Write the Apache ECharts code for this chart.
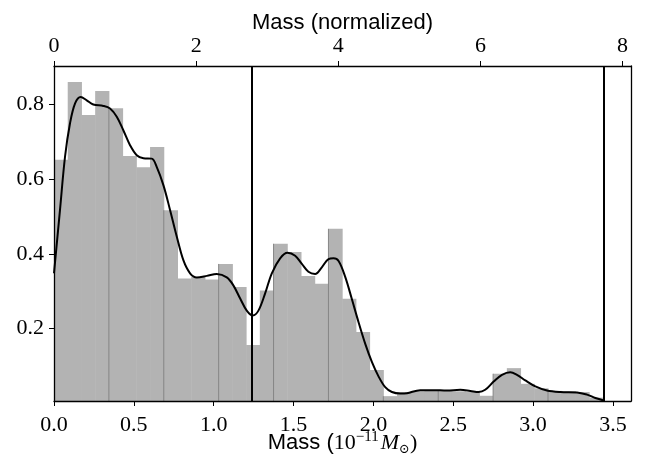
<!DOCTYPE html>
<html>
<head>
<meta charset="utf-8">
<script src="https://cdn.jsdelivr.net/npm/echarts@6/dist/echarts.min.js"></script>
<style>
  html, body { margin: 0; padding: 0; background: #fff; }
  #chart { width: 652px; height: 459px; }
</style>
</head>
<body>
<div id="chart"></div>
<script>
// histogram: 40 bins between 0 and the largest mass
const binMin = 0;
const binMax = 3.437;
const binHeights = [
  0.652, 0.860, 0.772, 0.836, 0.790, 0.662, 0.632, 0.686, 0.517, 0.334,
  0.338, 0.331, 0.373, 0.311, 0.156, 0.302, 0.427, 0.405, 0.341, 0.320,
  0.467, 0.280, 0.191, 0.089, 0.019, 0.030, 0.032, 0.034, 0.033, 0.032,
  0.030, 0.020, 0.079, 0.094, 0.052, 0.040, 0.033, 0.032, 0.030, 0.015
];

// density curve
const curveMass = [
  0, 0.038, 0.069, 0.100, 0.132, 0.167, 0.205, 0.246, 0.309, 0.351,
  0.393, 0.434, 0.476, 0.518, 0.560, 0.612, 0.643, 0.685, 0.727, 0.769,
  0.810, 0.852, 0.894, 0.957, 1.019, 1.082, 1.124, 1.165, 1.207, 1.245,
  1.280, 1.322, 1.364, 1.416, 1.462, 1.510, 1.552, 1.593, 1.635, 1.677,
  1.719, 1.750, 1.782, 1.823, 1.865, 1.907, 1.949, 1.991, 2.032, 2.074,
  2.116, 2.168, 2.210, 2.293, 2.377, 2.460, 2.544, 2.607, 2.659, 2.700,
  2.753, 2.805, 2.857, 2.899, 2.951, 3.014, 3.087, 3.170, 3.275, 3.338,
  3.390, 3.442
];
const curveDensity = [
  0.348, 0.520, 0.660, 0.749, 0.803, 0.820, 0.811, 0.800, 0.796, 0.789,
  0.767, 0.731, 0.691, 0.664, 0.656, 0.655, 0.633, 0.584, 0.517, 0.446,
  0.383, 0.348, 0.337, 0.341, 0.346, 0.337, 0.315, 0.281, 0.248, 0.235,
  0.248, 0.294, 0.348, 0.388, 0.403, 0.395, 0.373, 0.352, 0.346, 0.364,
  0.386, 0.388, 0.381, 0.339, 0.279, 0.217, 0.159, 0.110, 0.072, 0.043,
  0.030, 0.026, 0.027, 0.035, 0.035, 0.034, 0.036, 0.033, 0.030, 0.036,
  0.058, 0.076, 0.083, 0.076, 0.061, 0.045, 0.034, 0.030, 0.029, 0.023,
  0.014, 0.0075
];

const markerMasses = [1.239, 3.442];

const bottomTicks = [0, 0.5, 1.0, 1.5, 2.0, 2.5, 3.0, 3.5];
const topTicks = [0, 2, 4, 6, 8];
const yTicks = [0.2, 0.4, 0.6, 0.8];

const xMax = 3.613;
const topMax = 8.118;
const yMin = 0.006;
const yMax = 0.903;

const binWidth = (binMax - binMin) / binHeights.length;
const serif = '"Liberation Serif", "DejaVu Serif", serif';
const sans = '"Liberation Sans", Arial, sans-serif';

const chart = echarts.init(document.getElementById('chart'), null, { renderer: 'canvas' });

const tickLabel = { fontFamily: serif, fontSize: 22, color: '#000' };

const option = {
  animation: false,
  backgroundColor: '#fff',
  grid: { left: 54, right: 21, top: 66, bottom: 58, containLabel: false, outerBoundsMode: 'none' },
  xAxis: [
    {
      type: 'value', position: 'bottom', min: 0, max: xMax, z: 10,
      axisLine: { show: true, onZero: false, lineStyle: { color: '#000', width: 1.3 } },
      axisTick: { show: true, inside: false, length: 5, customValues: bottomTicks, lineStyle: { color: '#000', width: 1 } },
      axisLabel: Object.assign({ margin: 13, customValues: bottomTicks, formatter: v => v.toFixed(1) }, tickLabel),
      splitLine: { show: false },
      name: '{s|Mass (}{n|10}{sup|−11}{m|M}{sub|⊙}{n|)}',
      nameLocation: 'middle', nameGap: 29, nameMoveOverlap: false,
      nameTextStyle: {
        rich: {
          s: { fontFamily: sans, fontSize: 22, color: '#000' },
          n: { fontFamily: serif, fontSize: 22, color: '#000' },
          sup: { fontFamily: serif, fontSize: 15, color: '#000', verticalAlign: 'top', lineHeight: 26, padding: [0, 2, 0, 0] },
          m: { fontFamily: serif, fontStyle: 'italic', fontSize: 22, color: '#000' },
          sub: { fontFamily: serif, fontSize: 13, color: '#000', verticalAlign: 'bottom', lineHeight: 26 }
        }
      }
    },
    {
      type: 'value', position: 'top', min: 0, max: topMax, z: 10,
      axisLine: { show: true, onZero: false, lineStyle: { color: '#000', width: 1.3 } },
      axisTick: { show: true, inside: false, length: 5, customValues: topTicks, lineStyle: { color: '#000', width: 1 } },
      axisLabel: Object.assign({ margin: 9, customValues: topTicks, formatter: v => String(v) }, tickLabel),
      splitLine: { show: false },
      name: 'Mass (normalized)', nameLocation: 'middle', nameGap: 32, nameMoveOverlap: false,
      nameTextStyle: { fontFamily: sans, fontSize: 22, color: '#000' }
    }
  ],
  yAxis: [
    {
      type: 'value', position: 'left', min: yMin, max: yMax, z: 10,
      axisLine: { show: true, onZero: false, lineStyle: { color: '#000', width: 1.3 } },
      axisTick: { show: true, inside: false, length: 5, customValues: yTicks, lineStyle: { color: '#000', width: 1 } },
      axisLabel: Object.assign({ margin: 10, customValues: yTicks, formatter: v => v.toFixed(1) }, tickLabel),
      splitLine: { show: false }
    },
    {
      type: 'value', position: 'right', min: yMin, max: yMax, z: 10,
      axisLine: { show: true, onZero: false, lineStyle: { color: '#000', width: 1.3 } },
      axisTick: { show: false }, axisLabel: { show: false }, splitLine: { show: false }
    }
  ],
  series: [
    {
      type: 'custom',
      xAxisIndex: 0, yAxisIndex: 0,
      clip: true,
      data: binHeights.map((h, i) => [i, h]),
      renderItem: function (params, api) {
        const i = api.value(0);
        const h = api.value(1);
        const x0 = binMin + i * binWidth;
        const x1 = x0 + binWidth;
        const tl = api.coord([x0, h]);
        const br = api.coord([x1, yMin]);
        const children = [{
          type: 'rect',
          shape: { x: tl[0], y: tl[1], width: br[0] - tl[0] + 0.5, height: br[1] - tl[1] },
          style: { fill: '#b3b3b3' }
        }];
        if (i > 0 && i % 4 === 0) {
          children.push({
            type: 'line',
            shape: { x1: tl[0], y1: tl[1], x2: tl[0], y2: br[1] },
            style: { stroke: '#858585', lineWidth: 1 }
          });
        }
        return { type: 'group', children: children };
      }
    },
    {
      type: 'line',
      xAxisIndex: 0, yAxisIndex: 0,
      data: curveMass.map((m, i) => [m, curveDensity[i]]),
      smooth: 0.35,
      showSymbol: false,
      symbol: 'none',
      lineStyle: { color: '#000', width: 2 },
      z: 5,
      markLine: {
        silent: true,
        symbol: ['none', 'none'],
        label: { show: false },
        lineStyle: { color: '#000', width: 2, type: 'solid' },
        data: markerMasses.map(m => ({ xAxis: m }))
      }
    }
  ]
};

chart.setOption(option);
</script>
</body>
</html>
